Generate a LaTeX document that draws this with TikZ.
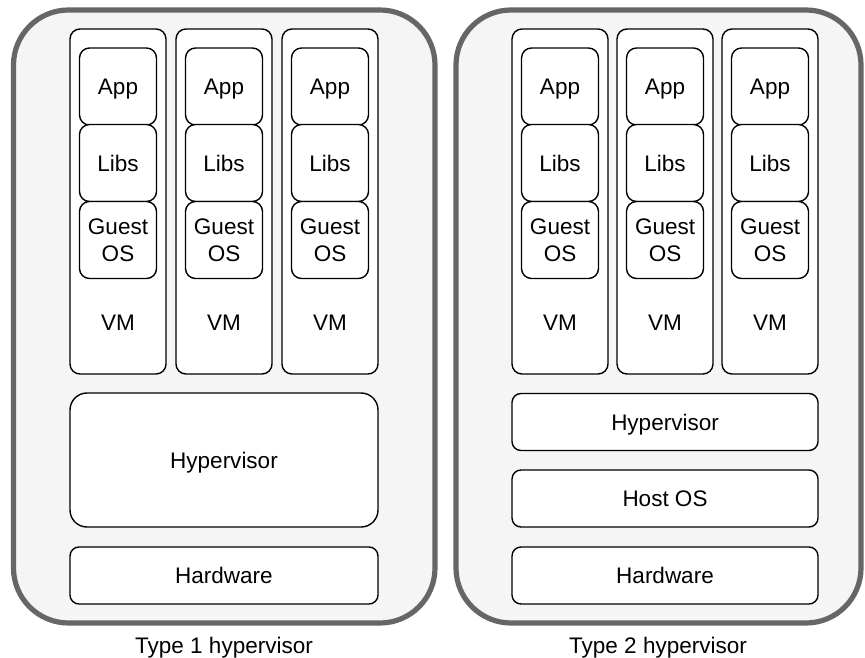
\documentclass[tikz,border=0pt]{standalone}
\usepackage{fontspec}
\setmainfont{Liberation Sans}
\usepackage{xcolor}
\usepackage{tikz}
\usetikzlibrary{positioning}
\definecolor{shellgray}{RGB}{102, 102, 102}
\definecolor{shellfill}{RGB}{245, 245, 245}
\tikzset{
    shell/.style={rectangle, rounded corners=27.5pt, draw=shellgray, fill=shellfill, line width=2.6pt, inner sep=0pt, outer sep=0pt},
    vmbox/.style={rectangle, rounded corners=5pt, draw=black, fill=white, line width=0.7pt, minimum width=48pt, minimum height=172.5pt, inner sep=0pt},
    layer/.style={rectangle, rounded corners=5pt, draw=black, fill=white, line width=0.7pt, minimum width=38.5pt, minimum height=38.5pt, inner sep=0pt, align=center, text depth=0pt},
    stack/.style={rectangle, rounded corners=4.5pt, draw=black, fill=white, line width=0.7pt, minimum height=28.5pt, inner sep=0pt, text depth=0pt},
    caption/.style={inner sep=0pt, text depth=0pt}
}

\begin{document}
\begin{tikzpicture}[x=0.5pt, y=-0.5pt, font=\fontsize{11.25}{13.5}\selectfont]
    \useasboundingbox (0,0) rectangle (865,657);

    % Represent the two hosts
    \node[shell, minimum width=210.75pt, minimum height=306.5pt] (typeone) at (224.25, 316.5) {};
    \node[shell, minimum width=202.5pt, minimum height=306.5pt] (typetwo) at (658.5, 316.5) {};

    % Virtual machines with their app stacks
    \foreach \n/\x in {a/118, b/224, c/330, d/560, e/665, f/770} {
        \node[vmbox] (vm\n) at (\x, 201.5) {};
        \node[layer] (app\n) at (\x, 86.5) {App};
        \node[layer] (libs\n) at (\x, 163) {Libs};
        \node[layer] (guest\n) at (\x, 240) {Guest\\OS};
        \node[text depth=0pt] (vmlabel\n) at (\x, 323) {VM};
    }

    % Type 1: hypervisor straight on the hardware
    \node[stack, minimum width=154pt, minimum height=67pt, rounded corners=8.5pt] (hyperone) at (224, 460) {Hypervisor};
    \node[stack, minimum width=154pt] (hardone) at (224, 575.5) {Hardware};

    % Type 2: hypervisor on top of a host OS
    \node[stack, minimum width=153pt] (hypertwo) at (665, 422) {Hypervisor};
    \node[stack, minimum width=153pt] (hostos) at (665, 498.5) {Host OS};
    \node[stack, minimum width=153pt] (hardtwo) at (665, 575.5) {Hardware};

    % Captions
    \node[caption] (captionone) at (224, 645) {Type 1 hypervisor};
    \node[caption] (captiontwo) at (658, 645) {Type 2 hypervisor};
\end{tikzpicture}
\end{document}
